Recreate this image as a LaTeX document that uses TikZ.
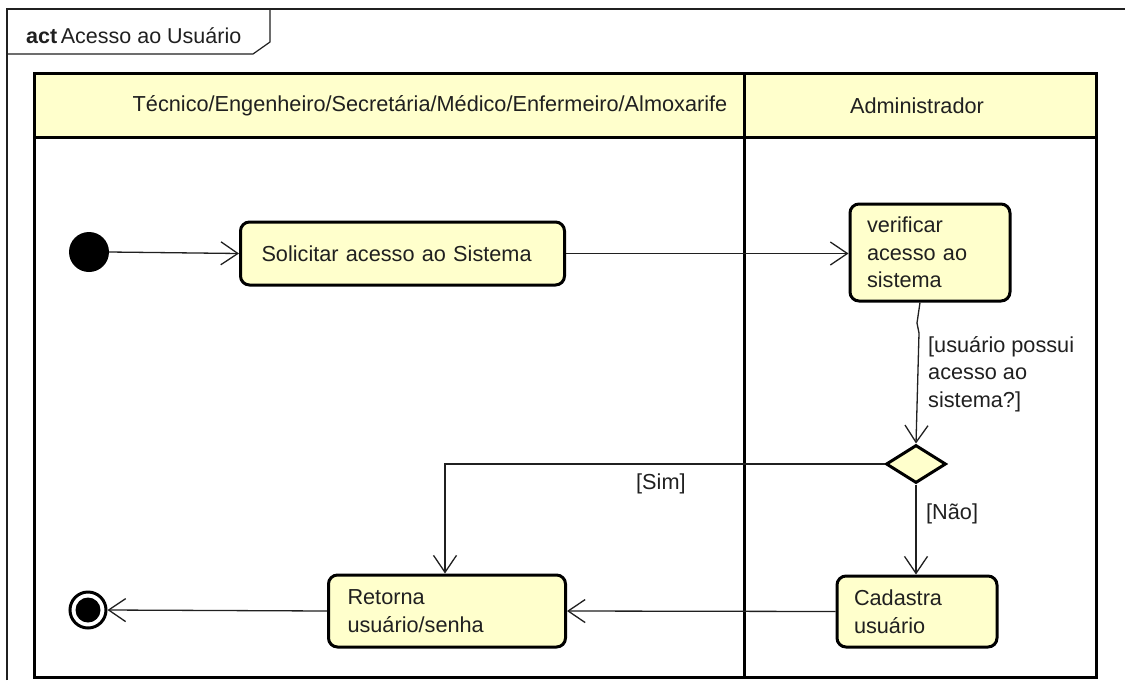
\documentclass[tikz,border=0pt]{standalone}
\usepackage{fontspec}
\setmainfont{Liberation Sans}
\usetikzlibrary{arrows.meta,shapes.geometric}
\definecolor{ucfill}{HTML}{FFFFCC}
\definecolor{ink}{HTML}{202020}
\tikzset{
  lane/.style={draw=black, line width=3pt},
  action/.style={draw=black, line width=3pt, fill=ucfill, rounded corners=9pt,
    align=left, inner ysep=0pt, font=\fontsize{21.7}{27.5}\selectfont, text=ink},
  flow/.style={draw=ink, line width=1.3pt, -{Straight Barb[length=17pt,width=23pt,line width=1.3pt]}},
  guard/.style={font=\fontsize{21.7}{27.5}\selectfont, text=ink, align=left},
}
\begin{document}
\begin{tikzpicture}[x=1pt,y=-1pt]
\useasboundingbox (0,0) rectangle (1125,689);
\fill[white] (0,0) rectangle (1125,689);

% diagram frame with its name tab
\draw[line width=1.2pt, draw=ink] (7,680) -- (7,9) -- (1125,9);
\draw[line width=1.2pt, draw=ink] (7,54) -- (253,54) -- (270,42) -- (270,9);
\node[anchor=base west, inner sep=0pt, font=\fontsize{21.5}{24}\selectfont, text=ink] (title) at (26,43)
  {\textbf{act}\,Acesso ao Usuário};

% swimlanes
\fill[ucfill] (34,73) rectangle (1096,137);
\draw[lane] (34,73) rectangle (1096,677);
\draw[lane] (34,137) -- (1096,137);
\draw[lane] (744,73) -- (744,677);
\node[font=\fontsize{21.7}{24}\selectfont, text=ink] (laneA) at (430,106)
  {Técnico/Engenheiro/Secretária/Médico/Enfermeiro/Almoxarife};
\node[font=\fontsize{21.7}{24}\selectfont, text=ink] (laneB) at (917,106) {Administrador};

% initial and final nodes
\node[circle, fill=black, minimum size=40pt, inner sep=0pt] (start) at (89,252) {};
\node[circle, draw=black, line width=3pt, fill=white, minimum size=36pt, inner sep=0pt] (stop) at (88,610) {};
\fill[black] (stop.center) circle (12.5pt);

% actions
\node[action, inner xsep=21pt, text width=282pt, minimum height=63pt] (solicitar) at (402.5,253.5)
  {Solicitar acesso ao Sistema};
\node[action, inner xsep=17pt, text width=126pt, minimum height=97pt] (verificar) at (930,252.5)
  {verificar\\acesso ao\\sistema};
\node[action, inner xsep=17pt, text width=126pt, minimum height=71pt] (cadastra) at (917,611.5)
  {Cadastra\\usuário};
\node[action, inner xsep=19pt, text width=199pt, minimum height=72pt] (retorna) at (447,611)
  {Retorna\\usuário/senha};

% decision
\node[diamond, draw=black, line width=3pt, fill=ucfill, minimum width=60pt, minimum height=38pt,
  inner sep=0pt] (decide) at (916,464) {};

% control flows
\draw[flow] (start.east) -- (solicitar.west);
\draw[flow] (solicitar.east) -- (verificar.west |- solicitar.east);
\draw[flow] (verificar.south -| 920,0) -- (917,323) -- (919,333) -- (decide.north);
\draw[flow] (decide.west) -- (445,464) -- (retorna.north -| 445,0);
\draw[flow] (decide.south) -- (cadastra.north -| decide.south);
\draw[flow] (cadastra.west) -- (retorna.east);
\draw[flow] (retorna.west) -- (stop.east);

% guards
\node[guard, anchor=north west, inner sep=0pt] (gq) at (928,336)
  {[usuário possui\\acesso ao\\sistema?]};
\node[guard, anchor=north west, inner sep=0pt] (gsim) at (636,474) {[Sim]};
\node[guard, anchor=north west, inner sep=0pt] (gnao) at (926,504) {[Não]};
\end{tikzpicture}
\end{document}
